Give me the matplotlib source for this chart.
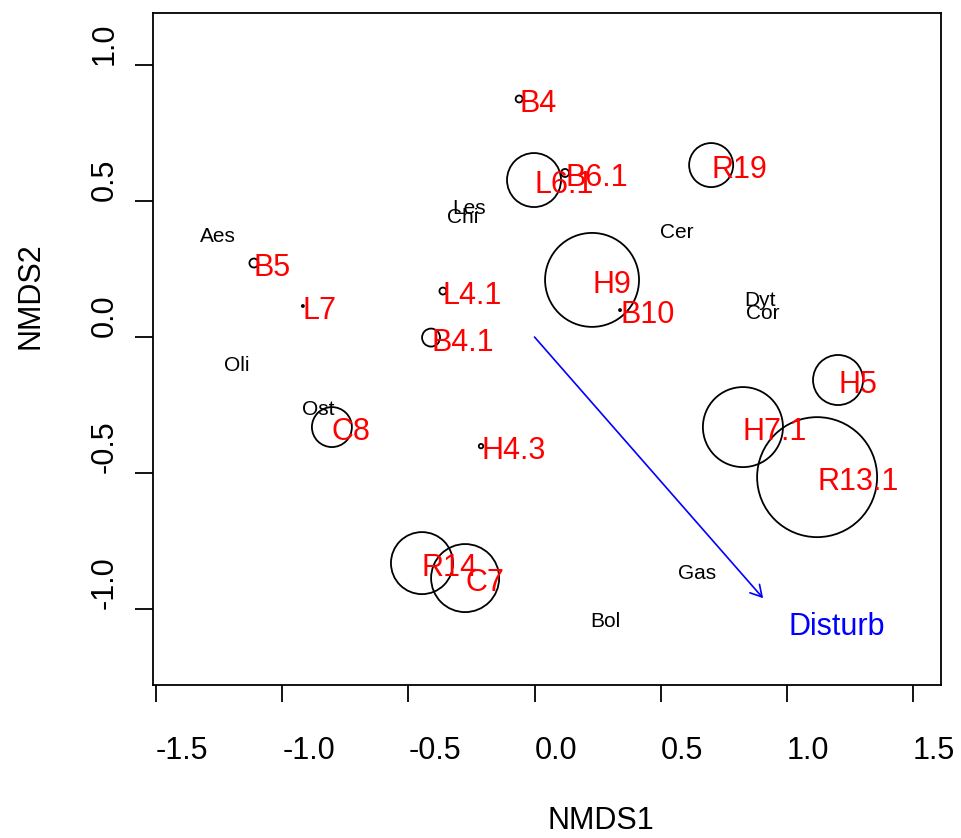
import matplotlib.pyplot as plt

plt.rcParams["font.family"] = ["Liberation Sans", "DejaVu Sans"]

# site scores (NMDS1, NMDS2) and relative bubble size
sites = ["B4", "L6.1", "B6.1", "R19", "H9", "B10", "H5", "H7.1", "R13.1",
         "C8", "H4.3", "R14", "C7", "B5", "L7", "L4.1", "B4.1"]
site_x = [-0.061, -0.002, 0.121, 0.700, 0.228, 0.339, 1.203, 0.826, 1.120,
          -0.803, -0.212, -0.446, -0.275, -1.112, -0.918, -0.363, -0.410]
site_y = [0.875, 0.577, 0.603, 0.632, 0.210, 0.099, -0.158, -0.331, -0.515,
          -0.331, -0.401, -0.831, -0.886, 0.272, 0.114, 0.169, -0.002]
bubble = [0.058, 0.45, 0.067, 0.367, 0.783, 0.017, 0.417, 0.667, 1.0,
          0.333, 0.037, 0.517, 0.567, 0.075, 0.017, 0.058, 0.15]

# species scores
species = ["Aes", "Les", "Chi", "Oli", "Cer", "Dyt", "Cor", "Ost", "Gas", "Bol"]
spec_x = [-1.326, -0.327, -0.347, -1.231, 0.497, 0.830, 0.838, -0.922, 0.569, 0.220]
spec_y = [0.371, 0.474, 0.441, -0.103, 0.386, 0.136, 0.088, -0.268, -0.868, -1.044]

# fitted environmental vector
env_name = "Disturb"
env_arrow = (0.906, -0.960)
env_label = (1.006, -1.066)

xticks = [-1.5, -1.0, -0.5, 0.0, 0.5, 1.0, 1.5]
yticks = [-1.0, -0.5, 0.0, 0.5, 1.0]

fig = plt.figure(figsize=(9.61, 8.38), dpi=100)
ax = fig.add_axes([153 / 961, 1 - 685 / 838, 788 / 961, 672 / 838])
ax.set_xlim(-1.512, 1.611)
ax.set_ylim(-1.279, 1.191)

# bubbles: largest radius 0.6 inch
r_pt = [b * 0.6 * 72 for b in bubble]
ax.scatter(site_x, site_y, s=[(2 * r) ** 2 for r in r_pt], facecolors="none",
           edgecolors="black", linewidths=1.3, zorder=2)

for name, x, y in zip(sites, site_x, site_y):
    ax.annotate(name, (x, y), xytext=(0, -3.6), textcoords="offset points",
                ha="left", va="center", color="red", fontsize=22, zorder=4)

for name, x, y in zip(species, spec_x, spec_y):
    ax.text(x, y, name, ha="left", va="center", fontsize=15, color="black", zorder=3)

ax.annotate("", xy=env_arrow, xytext=(0, 0),
            arrowprops=dict(arrowstyle="->,head_length=0.4,head_width=0.23",
                            color="blue", lw=1.2, mutation_scale=20,
                            shrinkA=0, shrinkB=0))
ax.text(env_label[0], env_label[1], env_name, ha="left", va="center",
        color="blue", fontsize=22)

for sp in ax.spines.values():
    sp.set_linewidth(1.3)

ax.set_xticks(xticks)
ax.set_xticklabels([f"{t:.1f}" for t in xticks], ha="left", fontsize=22)
ax.set_yticks(yticks)
ax.set_yticklabels([f"{t:.1f}" for t in yticks], rotation=90, va="bottom",
                   ha="right", fontsize=22)
ax.tick_params(axis="x", length=12, width=1.3, pad=25)
ax.tick_params(axis="y", length=13, width=1.3, pad=11)

ax.set_xlabel("NMDS1", fontsize=22, ha="left", va="center")
ax.xaxis.set_label_coords(0.5, -0.203)
ax.set_ylabel("NMDS2", fontsize=22, ha="left", va="center")
ax.yaxis.set_label_coords(-0.156, 0.5)

fig.savefig("out.png", dpi=100)
